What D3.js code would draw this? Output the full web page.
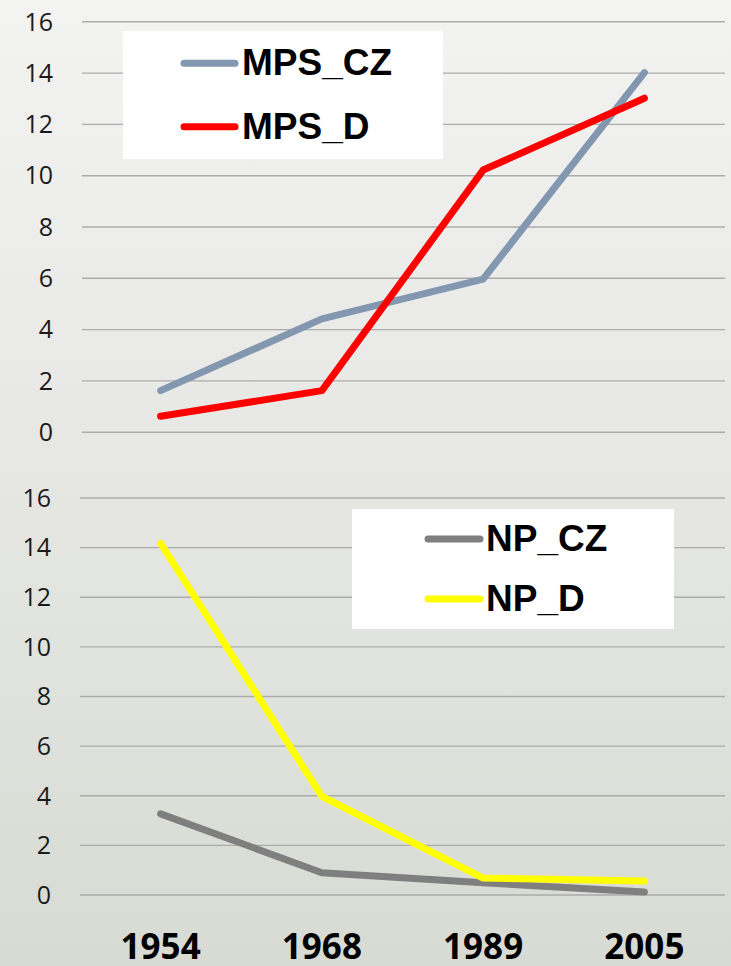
<!DOCTYPE html>
<html>
<head>
<meta charset="utf-8">
<script src="https://cdn.jsdelivr.net/npm/d3@7"></script>
<style>
  html, body { margin: 0; padding: 0; background: #fff; }
  svg { display: block; }
</style>
</head>
<body>
<svg id="chart" width="731" height="966"></svg>
<script>
// Categories and series
const years = ["1954", "1968", "1989", "2005"];
const yTicks = [0, 2, 4, 6, 8, 10, 12, 14, 16];

const mpsCZ = [1.6, 4.4, 5.95, 14.0];
const mpsD  = [0.6, 1.6, 10.2, 13.0];
const npCZ  = [3.25, 0.88, 0.47, 0.1];
const npD   = [14.15, 3.95, 0.66, 0.54];

const W = 731, H = 966;
const svg = d3.select("#chart");

// Background gradient
const defs = svg.append("defs");
const grad = defs.append("linearGradient")
  .attr("id", "bg").attr("x1", 0).attr("y1", 0).attr("x2", 0).attr("y2", 1);
grad.append("stop").attr("offset", "0%").attr("stop-color", "#f3f3f2");
grad.append("stop").attr("offset", "50%").attr("stop-color", "#e6e7e3");
grad.append("stop").attr("offset", "100%").attr("stop-color", "#d7dbd3");
svg.append("rect").attr("width", W).attr("height", H).attr("fill", "url(#bg)");

const x = d3.scaleBand().domain(years).range([80, 725]);

function panel(opts) {
  const y = d3.scaleLinear().domain([0, 16]).range([opts.bottom, opts.top]);
  const g = svg.append("g");

  // grid + tick labels via axis
  const axis = d3.axisLeft(y).tickValues(yTicks)
    .tickSize(-(725 - opts.gridLeft)).tickPadding(0).tickFormat(d3.format("d"));
  const ax = g.append("g")
    .attr("transform", `translate(${opts.gridLeft},0)`)
    .call(axis);
  ax.select(".domain").remove();
  ax.selectAll(".tick line").attr("stroke", "#ababab").attr("stroke-width", 1.4);
  ax.selectAll(".tick text")
    .attr("x", opts.labelRight - opts.gridLeft)
    .attr("dy", "0.35em")
    .attr("font-family", "'Open Sans', sans-serif")
    .attr("font-size", 25)
    .attr("fill", "#1a1a1a");

  const line = d3.line()
    .x((d, i) => x(years[i]) + x.bandwidth() / 2)
    .y(d => y(d));

  opts.series.forEach(s => {
    g.append("path")
      .datum(s.values)
      .attr("d", line)
      .attr("fill", "none")
      .attr("stroke", s.color)
      .attr("stroke-width", 7)
      .attr("stroke-linecap", "round")
      .attr("stroke-linejoin", "round");
  });

  // legend box
  const lg = g.append("g");
  lg.append("rect")
    .attr("x", opts.legend.x).attr("y", opts.legend.y)
    .attr("width", opts.legend.w).attr("height", opts.legend.h)
    .attr("fill", "#ffffff");
  opts.series.forEach((s, i) => {
    const ly = opts.legend.lineY + i * opts.legend.step;
    lg.append("line")
      .attr("x1", opts.legend.lx1).attr("x2", opts.legend.lx2)
      .attr("y1", ly).attr("y2", ly)
      .attr("stroke", s.color).attr("stroke-width", 7)
      .attr("stroke-linecap", "round");
    lg.append("text")
      .attr("x", opts.legend.tx)
      .attr("y", ly + 12)
      .attr("font-family", "'Liberation Sans', Arial, sans-serif")
      .attr("font-weight", "bold")
      .attr("font-size", 37)
      .attr("fill", "#000")
      .text(s.name);
  });
}

panel({
  top: 21.3, bottom: 431.7, gridLeft: 82, labelRight: 53,
  series: [
    { name: "MPS_CZ", values: mpsCZ, color: "#8497b0" },
    { name: "MPS_D",  values: mpsD,  color: "#ff0000" }
  ],
  legend: { x: 123, y: 31, w: 320, h: 128, lx1: 184, lx2: 235, lineY: 63.3, step: 63.4, tx: 242 }
});

panel({
  top: 497.5, bottom: 894.5, gridLeft: 80, labelRight: 51,
  series: [
    { name: "NP_CZ", values: npCZ, color: "#7f7f7f" },
    { name: "NP_D",  values: npD,  color: "#ffff00" }
  ],
  legend: { x: 352, y: 509, w: 322, h: 120, lx1: 428, lx2: 480, lineY: 539, step: 60, tx: 486 }
});

// category labels
svg.append("g").selectAll("text")
  .data(years)
  .join("text")
  .attr("x", d => x(d) + x.bandwidth() / 2)
  .attr("y", 959)
  .attr("text-anchor", "middle")
  .attr("font-family", "'Open Sans', sans-serif")
  .attr("font-weight", "bold")
  .attr("font-size", 35)
  .attr("fill", "#000")
  .text(d => d);
</script>
</body>
</html>
